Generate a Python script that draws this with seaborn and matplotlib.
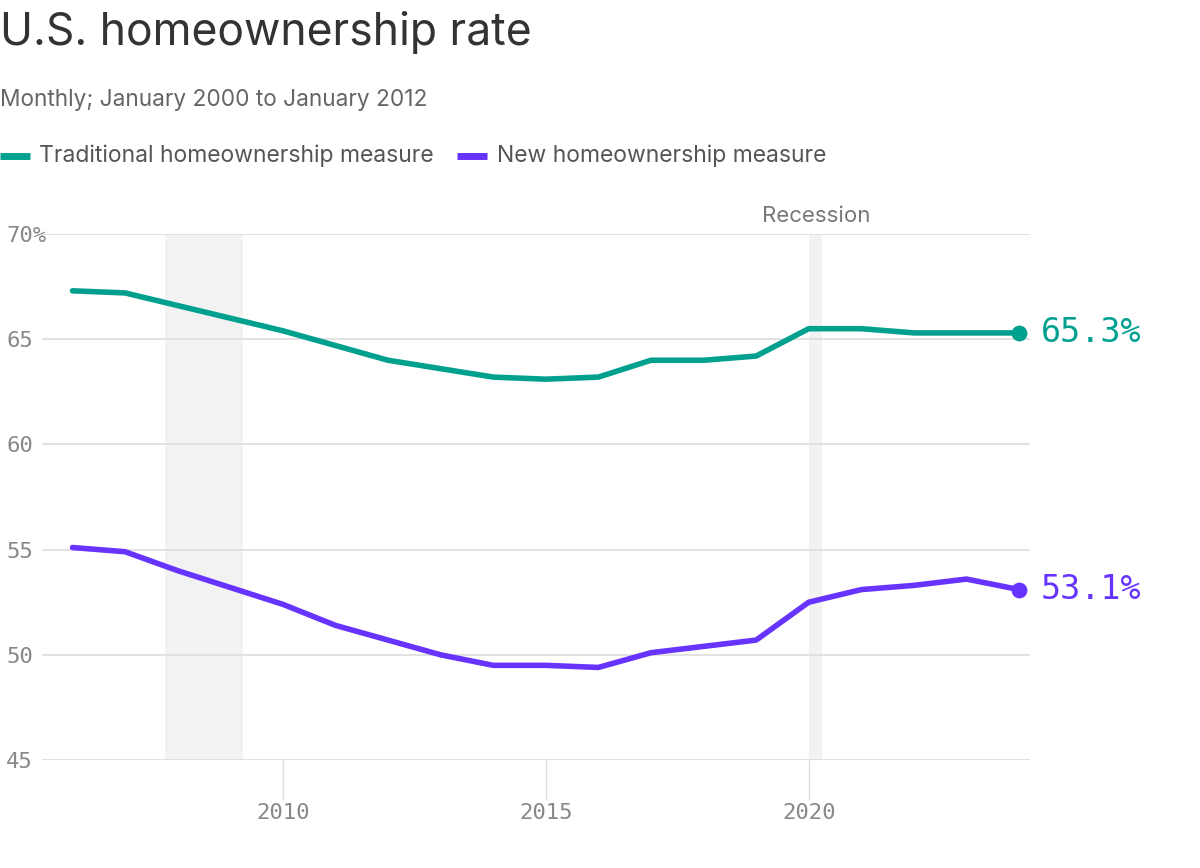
import matplotlib
matplotlib.use("Agg")
import matplotlib.pyplot as plt
import seaborn as sns
import pandas as pd

years = list(range(2006, 2025))
traditional = [67.3, 67.2, 66.6, 66.0, 65.4, 64.7, 64.0, 63.6, 63.2, 63.1, 63.2,
               64.0, 64.0, 64.2, 65.5, 65.5, 65.3, 65.3, 65.3]
new_measure = [55.1, 54.9, 54.0, 53.2, 52.4, 51.4, 50.7, 50.0, 49.5, 49.5, 49.4,
               50.1, 50.4, 50.7, 52.5, 53.1, 53.3, 53.6, 53.1]
series_names = ["Traditional homeownership measure", "New homeownership measure"]
colors = ["#00A08F", "#6633FF"]
recessions = [(2007.75, 2009.25), (2020.0, 2020.25)]
yticks = [45, 50, 55, 60, 65, 70]
ytick_labels = ["45", "50", "55", "60", "65", "70%"]
xticks = [2010, 2015, 2020]

df = pd.DataFrame({"year": years * 2,
                   "value": traditional + new_measure,
                   "series": [series_names[0]] * len(years) + [series_names[1]] * len(years)})

sns.set_theme(style="white")
plt.rcParams['font.family'] = ['Inter', 'DejaVu Sans']
mono = 'DejaVu Sans Mono'

fig = plt.figure(figsize=(12, 8.68), dpi=100)
ax = fig.add_axes([0.035, 0.1244, 0.823, 0.606])

for a, b in recessions:
    ax.axvspan(a, b, color="#F2F2F2", zorder=0, lw=0)

for yv in yticks:
    ax.axhline(yv, color="#DDDDDD", lw=1.2, zorder=1)

sns.lineplot(data=df, x="year", y="value", hue="series", palette=colors,
             hue_order=series_names, lw=4, ax=ax, legend=False, zorder=3)

for vals, c in zip([traditional, new_measure], colors):
    ax.scatter([years[-1]], [vals[-1]], s=130, color=c, zorder=4, lw=0)
    ax.text(years[-1] + 0.42, vals[-1], f"{vals[-1]:.1f}%", color=c, fontsize=24,
            family=mono, va="center", ha="left")

ax.set_xlim(2005.42, 2024.2)
ax.set_ylim(45, 70)
ax.set_yticks(yticks)
ax.set_yticklabels(ytick_labels, family=mono, color="#888888", fontsize=16)
ax.set_xticks(xticks)
ax.set_xticklabels([str(x) for x in xticks], family=mono, color="#888888", fontsize=16)
ax.tick_params(axis="y", length=0, pad=-4)
for lab in ax.get_yticklabels():
    lab.set_horizontalalignment("left")
    lab.set_x(-0.042)
ax.tick_params(axis="x", length=29, width=1, color="#DDDDDD", pad=2, direction="out")
ax.tick_params(axis="x", bottom=True)
for s in ax.spines.values():
    s.set_visible(False)
ax.set_xlabel("")
ax.set_ylabel("")
ax.grid(False)

ax.text(2020.15, 70.4, "Recession", ha="center", va="bottom", fontsize=16, color="#777777")

fig.text(0.0, 0.962, "U.S. homeownership rate", fontsize=32, color="#333333", va="center")
fig.text(0.0, 0.885, "Monthly; January 2000 to January 2012", fontsize=16.3, color="#666666", va="center")

# legend
ly = 0.820
fig.add_artist(plt.Line2D([0.0, 0.025], [ly, ly], color=colors[0], lw=5,
                          solid_capstyle="butt", transform=fig.transFigure))
fig.text(0.0325, ly, series_names[0], fontsize=16.5, color="#555555", va="center")
fig.add_artist(plt.Line2D([0.381, 0.406], [ly, ly], color=colors[1], lw=5,
                          solid_capstyle="butt", transform=fig.transFigure))
fig.text(0.414, ly, series_names[1], fontsize=16.5, color="#555555", va="center")

fig.savefig("out.png", dpi=100)
